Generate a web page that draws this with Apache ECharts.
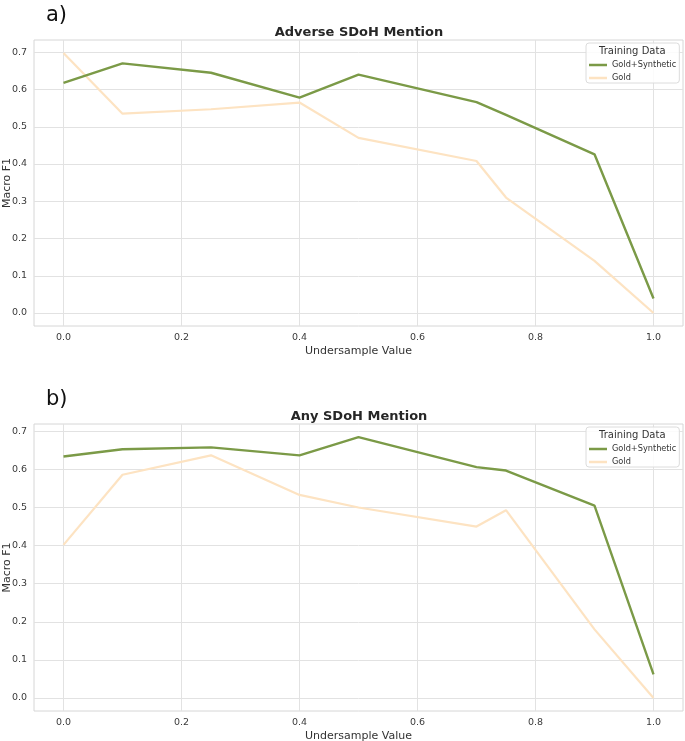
<!DOCTYPE html>
<html><head><meta charset="utf-8">
<script src="https://cdn.jsdelivr.net/npm/echarts@6/dist/echarts.min.js"></script>
<style>html,body{margin:0;padding:0;background:#fff}#c{width:685px;height:741px}</style>
</head><body><div id="c"></div>
<script>
var xValues = [0, 0.1, 0.25, 0.4, 0.5, 0.7, 0.75, 0.9, 1.0];
var adverseGoldSynthetic = [0.618, 0.670, 0.645, 0.578, 0.640, 0.566, 0.532, 0.426, 0.039];
var adverseGold = [0.698, 0.535, 0.547, 0.565, 0.470, 0.408, 0.310, 0.140, 0.0];
var anyGoldSynthetic = [0.634, 0.653, 0.658, 0.637, 0.685, 0.606, 0.597, 0.505, 0.062];
var anyGold = [0.402, 0.586, 0.637, 0.533, 0.500, 0.450, 0.493, 0.180, 0.0];
var xTicks = [0, 0.2, 0.4, 0.6, 0.8, 1.0];
var yTicks = [0, 0.1, 0.2, 0.3, 0.4, 0.5, 0.6, 0.7];
var titles = ['Adverse SDoH Mention', 'Any SDoH Mention'];
var panelLabels = ['a)', 'b)'];
var seriesNames = ['Gold+Synthetic', 'Gold'];

var GREEN = '#7b9a47', GOLD = '#fde3c2';
var FONT = 'DejaVu Sans';
function pairs(ys){ return xValues.map(function(x,i){ return [x, ys[i]]; }); }

var gridTops = [40, 424];
var gridH = [286, 287];
var yRanges = [[-0.0349, 0.7329], [-0.03425, 0.71925]];

var grids = [], xAxes = [], yAxes = [], series = [], titlesOpt = [], legends = [], graphics = [];
for (var g = 0; g < 2; g++) {
  grids.push({left: 34, right: 2, top: gridTops[g], height: gridH[g], show: true,
    containLabel: false, outerBoundsMode: 'none',
    borderColor: '#d6d6d6', borderWidth: 1, backgroundColor: '#fff'});
  xAxes.push({type: 'value', gridIndex: g, min: -0.05, max: 1.05,
    name: 'Undersample Value', nameLocation: 'middle', nameGap: 20, nameMoveOverlap: false,
    nameTextStyle: {fontFamily: FONT, fontSize: 11, color: '#333'},
    axisLine: {show: false}, axisTick: {show: false, customValues: xTicks},
    axisLabel: {customValues: xTicks, margin: 7, fontFamily: FONT, fontSize: 9.5, color: '#3a3a3a',
      formatter: function(v){ return (+v).toFixed(1); }},
    splitLine: {show: true, lineStyle: {color: '#e2e2e2', width: 1}}});
  yAxes.push({type: 'value', gridIndex: g, min: yRanges[g][0], max: yRanges[g][1],
    name: 'Macro F1', nameLocation: 'middle', nameGap: 21, nameRotate: 90, nameMoveOverlap: false,
    nameTextStyle: {fontFamily: FONT, fontSize: 11, color: '#333'},
    axisLine: {show: false}, axisTick: {show: false, customValues: yTicks},
    axisLabel: {customValues: yTicks, margin: 7, fontFamily: FONT, fontSize: 9.5, color: '#3a3a3a',
      formatter: function(v){ return (+v).toFixed(1); }},
    splitLine: {show: true, lineStyle: {color: '#e2e2e2', width: 1}}});
  titlesOpt.push({text: titles[g], left: 354, textAlign: 'center', top: gridTops[g] - 19,
    textStyle: {fontFamily: FONT, fontSize: 13, fontWeight: 'bold', color: '#262626'}});
  legends.push({orient: 'vertical', left: 586, top: gridTops[g] + 3,
    padding: [18, 3, 1, 3], itemGap: 5, itemWidth: 18, itemHeight: 2.5, icon: 'rect',
    borderColor: '#dcdcdc', borderWidth: 1, borderRadius: 3, backgroundColor: 'rgba(255,255,255,0.85)',
    textStyle: {fontFamily: FONT, fontSize: 8.2, color: '#333'},
    data: seriesNames.map(function(n){ return {name: n}; }),
    selectedMode: false, z: 5});
  graphics.push({type: 'text', left: 599, top: gridTops[g] + 6, z: 100,
    style: {text: 'Training Data', fontFamily: FONT, fontSize: 10, fill: '#333'}});
  graphics.push({type: 'text', left: 46, top: gridTops[g] - 35, z: 100,
    style: {text: panelLabels[g], fontFamily: FONT, fontSize: 21, fill: '#111'}});
}
var data = [[adverseGoldSynthetic, adverseGold], [anyGoldSynthetic, anyGold]];
for (var g2 = 0; g2 < 2; g2++) {
  series.push({name: seriesNames[0], type: 'line', xAxisIndex: g2, yAxisIndex: g2, data: pairs(data[g2][0]),
    showSymbol: false, symbol: 'none', lineStyle: {color: GREEN, width: 2.4}, itemStyle: {color: GREEN}, z: 3});
  series.push({name: seriesNames[1], type: 'line', xAxisIndex: g2, yAxisIndex: g2, data: pairs(data[g2][1]),
    showSymbol: false, symbol: 'none', lineStyle: {color: GOLD, width: 2.2}, itemStyle: {color: GOLD}, z: 2});
}
var chart = echarts.init(document.getElementById('c'), null, {renderer: 'canvas'});
chart.setOption({animation: false, backgroundColor: '#fff', title: titlesOpt, grid: grids,
  xAxis: xAxes, yAxis: yAxes, legend: legends, series: series, graphic: graphics});
</script></body></html>
